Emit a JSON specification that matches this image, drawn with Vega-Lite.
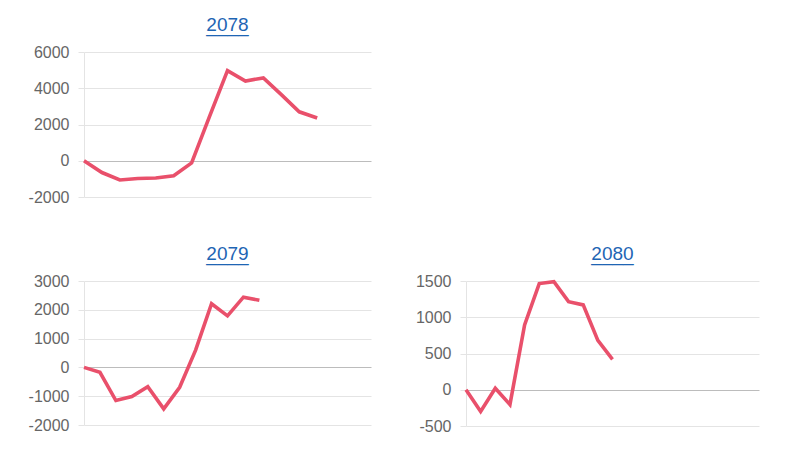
{
  "$schema": "https://vega.github.io/schema/vega-lite/v6.json",
  "background": "white",
  "padding": {"left": 28, "top": 16, "right": 5, "bottom": 5},
  "datasets": {
    "y2078": [
      {"i": 0, "v": 0}, {"i": 1, "v": -650}, {"i": 2, "v": -1060}, {"i": 3, "v": -980},
      {"i": 4, "v": -950}, {"i": 5, "v": -830}, {"i": 6, "v": -120}, {"i": 7, "v": 2450},
      {"i": 8, "v": 4970}, {"i": 9, "v": 4400}, {"i": 10, "v": 4570}, {"i": 11, "v": 3650},
      {"i": 12, "v": 2700}, {"i": 13, "v": 2360}
    ],
    "y2079": [
      {"i": 0, "v": 0}, {"i": 1, "v": -170}, {"i": 2, "v": -1150}, {"i": 3, "v": -1010},
      {"i": 4, "v": -670}, {"i": 5, "v": -1440}, {"i": 6, "v": -690}, {"i": 7, "v": 600},
      {"i": 8, "v": 2210}, {"i": 9, "v": 1790}, {"i": 10, "v": 2440}, {"i": 11, "v": 2330}
    ],
    "y2080": [
      {"i": 0, "v": 0}, {"i": 1, "v": -300}, {"i": 2, "v": 20}, {"i": 3, "v": -205},
      {"i": 4, "v": 895}, {"i": 5, "v": 1465}, {"i": 6, "v": 1490}, {"i": 7, "v": 1215},
      {"i": 8, "v": 1170}, {"i": 9, "v": 680}, {"i": 10, "v": 420}
    ]
  },
  "config": {
    "view": {"stroke": null},
    "font": "Liberation Sans",
    "title": {"font": "Liberation Sans", "fontSize": 19, "fontWeight": "normal", "color": "#1e65b4", "anchor": "middle", "offset": 8, "lineHeight": 1},
    "axisY": {
      "labelFont": "Liberation Sans", "labelFontSize": 16, "labelColor": "#666666",
      "domainColor": "#e4e4e4", "tickColor": "#e4e4e4", "tickSize": 6, "labelPadding": 9,
      "labelExpr": "'' + datum.value", "title": null
    }
  },
  "spacing": 40,
  "vconcat": [
    {
      "width": 287, "height": 145,
      "title": {"text": ["2078", "____"]},
      "data": {"name": "y2078"},
      "mark": {"type": "line", "color": "#e9506b", "strokeWidth": 3.6},
      "encoding": {
        "x": {"field": "i", "type": "quantitative", "scale": {"domain": [0, 16]}, "axis": null},
        "y": {"field": "v", "type": "quantitative", "scale": {"domain": [-2000, 6000]}, "axis": {"values": [-2000, 0, 2000, 4000, 6000], "gridColor": {"condition": {"test": "datum.value === 0", "value": "#bcbcbc"}, "value": "#e4e4e4"}}}
      }
    },
    {
      "spacing": 44,
      "hconcat": [
        {
          "width": 287, "height": 144,
          "title": {"text": ["2079", "____"]},
          "data": {"name": "y2079"},
          "mark": {"type": "line", "color": "#e9506b", "strokeWidth": 3.6},
          "encoding": {
            "x": {"field": "i", "type": "quantitative", "scale": {"domain": [0, 18]}, "axis": null},
            "y": {"field": "v", "type": "quantitative", "scale": {"domain": [-2000, 3000]}, "axis": {"values": [-2000, -1000, 0, 1000, 2000, 3000], "gridColor": {"condition": {"test": "datum.value === 0", "value": "#bcbcbc"}, "value": "#e4e4e4"}}}
          }
        },
        {
          "width": 293, "height": 145,
          "title": {"text": ["2080", "____"]},
          "data": {"name": "y2080"},
          "mark": {"type": "line", "color": "#e9506b", "strokeWidth": 3.6},
          "encoding": {
            "x": {"field": "i", "type": "quantitative", "scale": {"domain": [0, 20]}, "axis": null},
            "y": {"field": "v", "type": "quantitative", "scale": {"domain": [-500, 1500]}, "axis": {"values": [-500, 0, 500, 1000, 1500], "gridColor": {"condition": {"test": "datum.value === 0", "value": "#bcbcbc"}, "value": "#e4e4e4"}}}
          }
        }
      ]
    }
  ]
}
